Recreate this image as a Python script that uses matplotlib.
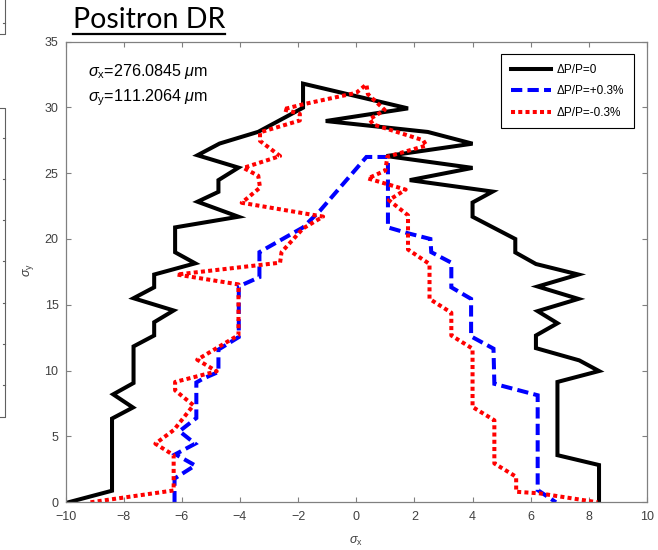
import matplotlib
matplotlib.use('Agg')
import matplotlib.pyplot as plt
from matplotlib.lines import Line2D

# ---- data ----
black_x = [-9.9, -8.4, -8.4, -7.68, -8.36, -7.66, -7.66, -6.95, -6.95, -6.28, -7.66, -6.95,
           -6.95, -5.54, -6.23, -6.23, -4.05, -5.46, -4.74, -4.74, -4.05, -5.46, -4.7, -3.37,
           -1.83, -1.83, 1.78, -1.05, 2.46, 4.0, 1.04, 4.0, 1.84, 4.69, 4.0, 4.0, 5.47, 5.47,
           6.18, 7.64, 6.24, 7.64, 6.24, 6.92, 6.18, 6.18, 7.67, 8.35, 6.92, 6.92, 8.35, 8.35]
black_y = [0, 0.88, 6.36, 7.2, 8.2, 9.06, 11.84, 12.67, 13.68, 14.57, 15.5, 16.33,
           17.3, 18.15, 18.99, 20.88, 21.69, 22.83, 23.58, 24.47, 25.42, 26.36, 27.25, 28.14,
           29.97, 31.8, 29.92, 28.96, 28.13, 27.24, 26.3, 25.4, 24.47, 23.6, 22.77, 21.69, 20.0, 18.98,
           18.1, 17.3, 16.39, 15.45, 14.52, 13.6, 12.67, 11.71, 10.78, 9.97, 9.14, 3.58, 2.83, 0]

blue_x = [-6.25, -6.25, -5.54, -6.22, -5.54, -6.08, -5.5, -5.5, -5.26, -4.74, -4.74, -4.04,
          -4.04, -3.33, -3.33, -1.83, -1.25, 0.35, 1.09, 1.09, 1.84, 2.55, 2.58, 3.27, 3.27,
          3.95, 3.95, 4.72, 4.75, 6.24, 6.24, 6.87]
blue_y = [0, 1.8, 2.8, 3.65, 4.45, 5.4, 6.4, 9.1, 9.4, 9.9, 11.6, 12.55,
          16.4, 17.1, 19.0, 20.88, 22.14, 26.23, 26.23, 20.88, 20.4, 20.0, 19.0, 18.2, 16.33,
          15.45, 12.6, 11.67, 9.0, 8.13, 0.93, 0]

red_x = [-9.14, -6.28, -6.28, -6.91, -6.27, -5.6, -6.23, -6.23, -4.8, -5.47, -4.05, -4.05,
         -6.17, -2.62, -2.57, -1.83, -1.14, -3.94, -3.31, -3.37, -3.88, -2.62, -3.31, -3.31,
         -1.94, -1.94, -2.51, -1.83, 0.0, 0.35, 0.4, 0.98, 0.46, 0.58, 2.3, 2.41, 1.07, 1.0,
         0.4, 1.7, 1.12, 1.78, 1.78, 2.52, 2.52, 3.27, 3.27, 4.0, 4.0, 4.75, 4.75, 5.5, 5.5,
         6.3, 8.3]
red_y = [0, 0.9, 3.58, 4.45, 5.5, 7.37, 8.5, 9.14, 9.95, 10.83, 12.7, 16.55,
         17.3, 18.2, 19.0, 20.8, 21.7, 22.75, 23.9, 24.8, 25.4, 26.3, 27.45, 28.1,
         29.0, 29.5, 29.85, 30.23, 31.1, 31.74, 31.0, 29.8, 29.1, 28.7, 27.5, 27.1, 26.25, 25.2,
         24.6, 23.75, 22.95, 21.8, 19.2, 18.1, 15.45, 14.4, 12.67, 11.67, 7.24, 6.23, 2.95, 1.94, 0.8,
         0.68, 0]

series_labels = ['\u0394P/P=0', '\u0394P/P=+0.3%', '\u0394P/P=-0.3%']
x_ticks = [-10, -8, -6, -4, -2, 0, 2, 4, 6, 8, 10]
y_ticks = [0, 5, 10, 15, 20, 25, 30, 35]
title_text = 'Positron DR'
note1 = r'$\sigma_{\mathrm{x}}$=276.0845 $\mu$m'
note2 = r'$\sigma_{\mathrm{y}}$=111.2064 $\mu$m'

# ---- style ----
plt.rcParams['font.family'] = ['Liberation Sans', 'DejaVu Sans']
plt.rcParams['mathtext.fontset'] = 'custom'
plt.rcParams['mathtext.rm'] = 'Liberation Sans'
plt.rcParams['mathtext.it'] = 'Liberation Sans:italic'

W, H = 658, 550
fig = plt.figure(figsize=(W / 100, H / 100), dpi=100)

def fx(px):
    return px / W

def fy(py):
    return 1 - py / H

left, right, top, bottom = 65.5, 647.0, 41.5, 502.3
ax = fig.add_axes([fx(left), fy(bottom), fx(right) - fx(left), fy(top) - fy(bottom)])

lw = 2.9
ax.plot(black_x, black_y, color='k', lw=lw, solid_joinstyle='miter', label=series_labels[0])
ax.plot(blue_x, blue_y, color='#0000ff', lw=lw, dashes=(2.8, 1.3), dash_capstyle='butt',
        dash_joinstyle='miter', label=series_labels[1])
ax.plot(red_x, red_y, color='#ff0000', lw=lw, dashes=(1.0, 0.8), dash_capstyle='butt',
        label=series_labels[2])

ax.set_xlim(-10, 10)
ax.set_ylim(0, 35)
ax.set_xticks(x_ticks)
ax.set_yticks(y_ticks)
spine_c = '#808080'
for s in ax.spines.values():
    s.set_color(spine_c)
    s.set_linewidth(0.9)
ax.tick_params(direction='in', length=3.6, width=0.8, top=True, right=True,
               color=spine_c, labelcolor='#404040', labelsize=9)
ax.tick_params(axis='x', pad=6)
ax.tick_params(axis='y', pad=5)

leg = ax.legend(loc='upper right', bbox_to_anchor=(0.977, 0.972), fontsize=8.5,
                frameon=True, fancybox=False, edgecolor='k', framealpha=1,
                handlelength=3.4, handletextpad=0.5, labelspacing=0.8,
                borderpad=0.8, borderaxespad=0)
leg.get_frame().set_linewidth(0.8)

# annotations
fig.text(fx(88), fy(76), note1, fontsize=11.6, va='baseline', ha='left', color='k')
fig.text(fx(88), fy(101), note2, fontsize=11.6, va='baseline', ha='left', color='k')

# axis labels
fig.text(fx(356), fy(541), r'$\sigma_{\mathrm{x}}$', fontsize=9, ha='center', va='center', color='#404040')
fig.text(fx(28), fy(270), r'$\sigma_{\mathrm{y}}$', fontsize=9, ha='center', va='center',
         rotation=90, color='#404040')

# title with underline
fig.text(fx(73), fy(28), title_text, fontsize=20.5, family=['Lato', 'DejaVu Sans'],
         va='baseline', ha='left', color='k')
fig.add_artist(Line2D([fx(73), fx(225)], [fy(34), fy(34)], transform=fig.transFigure,
                      color='k', lw=1.6))

# fragments of neighbouring panel at left edge
ec = '#606060'
fig.add_artist(Line2D([fx(5.3), fx(5.3), fx(0)], [fy(0), fy(34), fy(34)],
                      transform=fig.transFigure, color=ec, lw=0.8))
fig.add_artist(Line2D([fx(3), fx(5.3)], [fy(23), fy(23)], transform=fig.transFigure, color=ec, lw=0.8))
fig.add_artist(Line2D([fx(0), fx(5.3), fx(5.3), fx(0)], [fy(108), fy(108), fy(417), fy(417)],
                      transform=fig.transFigure, color=ec, lw=0.8))
for ty in [138, 179, 220, 261, 303, 344, 385]:
    fig.add_artist(Line2D([fx(2.5), fx(5.3)], [fy(ty), fy(ty)], transform=fig.transFigure,
                          color=ec, lw=0.8))

fig.savefig('out.png', dpi=100)
